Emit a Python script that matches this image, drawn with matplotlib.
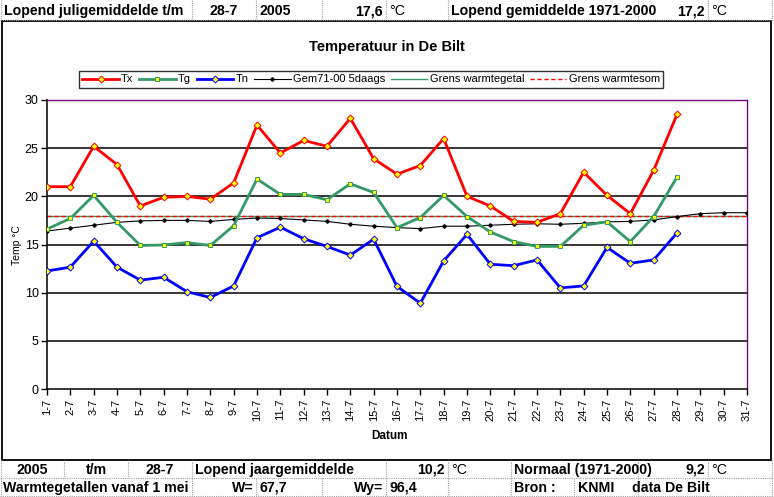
import numpy as np
import matplotlib
matplotlib.use("Agg")
import matplotlib.pyplot as plt
from matplotlib.lines import Line2D
from matplotlib.patches import Rectangle

# data
days = [f"{d}-7" for d in range(1, 32)]
tx = [21.0, 21.0, 25.2, 23.3, 19.0, 19.9, 20.0, 19.7, 21.4, 27.4, 24.5, 25.8, 25.2, 28.1,
      23.9, 22.3, 23.2, 26.0, 20.0, 19.0, 17.4, 17.3, 18.2, 22.5, 20.1, 18.2, 22.7, 28.5]
tg = [16.6, 17.7, 20.1, 17.3, 14.9, 14.95, 15.2, 14.9, 16.95, 21.8, 20.2, 20.2, 19.65, 21.3,
      20.4, 16.75, 17.8, 20.1, 17.9, 16.3, 15.3, 14.8, 14.8, 17.0, 17.35, 15.3, 17.9, 22.0]
tn = [12.25, 12.65, 15.35, 12.65, 11.3, 11.6, 10.1, 9.5, 10.7, 15.7, 16.8, 15.6, 14.8, 13.9,
      15.55, 10.65, 8.9, 13.3, 16.05, 12.95, 12.8, 13.4, 10.5, 10.7, 14.7, 13.05, 13.4, 16.2]
gem = [16.4, 16.7, 17.0, 17.3, 17.45, 17.5, 17.5, 17.4, 17.6, 17.75, 17.7, 17.55, 17.4, 17.1,
       16.9, 16.75, 16.65, 16.9, 16.9, 17.0, 17.1, 17.15, 17.1, 17.2, 17.35, 17.4, 17.55, 17.9,
       18.2, 18.3, 18.3]
grens_getal = [18.0] * 31
grens_som = [18.0] * 31

header = [("Lopend juligemiddelde t/m", 4, "left"), ("28-7", 224, "center"),
          ("2005", 259, "left"), ("17,6", 383, "right"), ("°C", 389, "left"),
          ("Lopend gemiddelde 1971-2000", 451, "left"), ("17,2", 705, "right"),
          ("°C", 711, "left")]
row1 = [("2005", 32, "center"), ("t/m", 96, "center"), ("28-7", 160, "center"),
        ("Lopend jaargemiddelde", 195, "left"), ("10,2", 445, "right"), ("°C", 451, "left"),
        ("Normaal (1971-2000)", 514, "left"), ("9,2", 705, "right"), ("°C", 711, "left")]
row2 = [("Warmtegetallen vanaf 1 mei", 3, "left"), ("W=", 254, "right"), ("67,7", 259, "left"),
        ("Wy=", 383, "right"), ("96,4", 389, "left"), ("Bron :", 514, "left"),
        ("KNMI", 578, "left"), ("data De Bilt", 671, "center")]

W, H = 774, 497
red = "#FF0000"
green = "#339966"
blue = "#0000FF"
purple = "#800080"
plt.rcParams["font.family"] = ["Liberation Sans", "DejaVu Sans"]


def fx(x):
    return x / W


def fy(y):
    return 1 - y / H


fig = plt.figure(figsize=(W / 100, H / 100), dpi=100)


# spreadsheet cell lines
def hline(y, x0, x1):
    fig.add_artist(Line2D([fx(x0), fx(x1)], [fy(y), fy(y)], color="#a0a0a0",
                          lw=0.8, ls=(0, (1, 1))))


def vline(x, y0, y1):
    fig.add_artist(Line2D([fx(x), fx(x)], [fy(y0), fy(y1)], color="#a0a0a0",
                          lw=0.8, ls=(0, (1, 1))))


hline(20, 0, 774)
hline(478, 0, 774)
hline(496, 0, 774)
for xv in [1, 192, 256, 322, 386, 448, 638, 708, 772]:
    vline(xv, 0, 20)
for xv in [1, 64, 128, 192, 386, 448, 511, 638, 708, 772]:
    vline(xv, 460, 478)
for xv in [1, 192, 256, 322, 386, 448, 511, 574, 638, 772]:
    vline(xv, 478, 496)

for rows, yp in [(header, 11), (row1, 470), (row2, 488)]:
    for txt, xp, ha in rows:
        fig.text(fx(xp), fy(yp), txt, ha=ha, va="center", fontsize=10.2,
                 fontweight="normal" if txt == "°C" else "bold")

# chart box
fig.add_artist(Rectangle((fx(1.5), fy(460)), fx(771) - fx(1.5), fy(21) - fy(460),
                         transform=fig.transFigure, fill=False, ec="black", lw=1.3))

ax = fig.add_axes([fx(47), fy(389), fx(747) - fx(47), fy(100) - fy(389)])
x = np.arange(31)

for yv in [5, 10, 15, 20, 25]:
    ax.axhline(yv, color="black", lw=1.1, zorder=1)

ax.plot(x, grens_getal, color=green, lw=1, zorder=2, label="Grens warmtegetal")
ax.plot(x, grens_som, color=red, lw=1, ls=(0, (3, 2)), zorder=2, label="Grens warmtesom")
ax.plot(x[:len(tx)], tx, color=red, lw=2, marker="D", ms=3.5, mfc="yellow", mec=red,
        mew=0.7, zorder=4, label="Tx")
ax.plot(x[:len(tg)], tg, color=green, lw=2, marker="s", ms=3.5, mfc="yellow", mec=green,
        mew=0.7, zorder=4, label="Tg")
ax.plot(x[:len(tn)], tn, color=blue, lw=2, marker="D", ms=3.5, mfc="yellow", mec=blue,
        mew=0.7, zorder=4, label="Tn")
ax.plot(x, gem, color="black", lw=0.8, marker="D", ms=1.8, zorder=3, label="Gem71-00 5daags")

ax.set_xlim(0, 30)
ax.set_ylim(0, 30)
ax.set_xticks(x)
ax.set_xticklabels(days, rotation=90, fontsize=8)
ax.set_yticks(range(0, 31, 5))
ax.tick_params(axis="y", labelsize=9, length=4, width=1, pad=2)
ax.tick_params(axis="x", length=4, width=1, pad=3)

for s in ["top", "right"]:
    ax.spines[s].set_color(purple)
    ax.spines[s].set_linewidth(1)
for s in ["left", "bottom"]:
    ax.spines[s].set_linewidth(1.1)

fig.text(fx(17), fy(245), "Temp °C", rotation=90, ha="center", va="center", fontsize=7.5)
fig.text(fx(390), fy(436), "Datum", ha="center", va="center", fontsize=8.5, fontweight="bold")
fig.text(fx(387), fy(47), "Temperatuur in De Bilt", ha="center", va="center",
         fontsize=10.5, fontweight="bold")

handles, labels = ax.get_legend_handles_labels()
order = [2, 3, 4, 5, 0, 1]
leg = fig.legend([handles[i] for i in order], [labels[i] for i in order],
                 loc="center", bbox_to_anchor=(fx(371), fy(79.5)), ncol=6,
                 fontsize=8, frameon=True, fancybox=False, edgecolor="black",
                 handlelength=3.3, handletextpad=0.2, columnspacing=0.5,
                 borderpad=0.3, borderaxespad=0)
leg.get_frame().set_linewidth(1)

fig.savefig("out.png", dpi=100)
